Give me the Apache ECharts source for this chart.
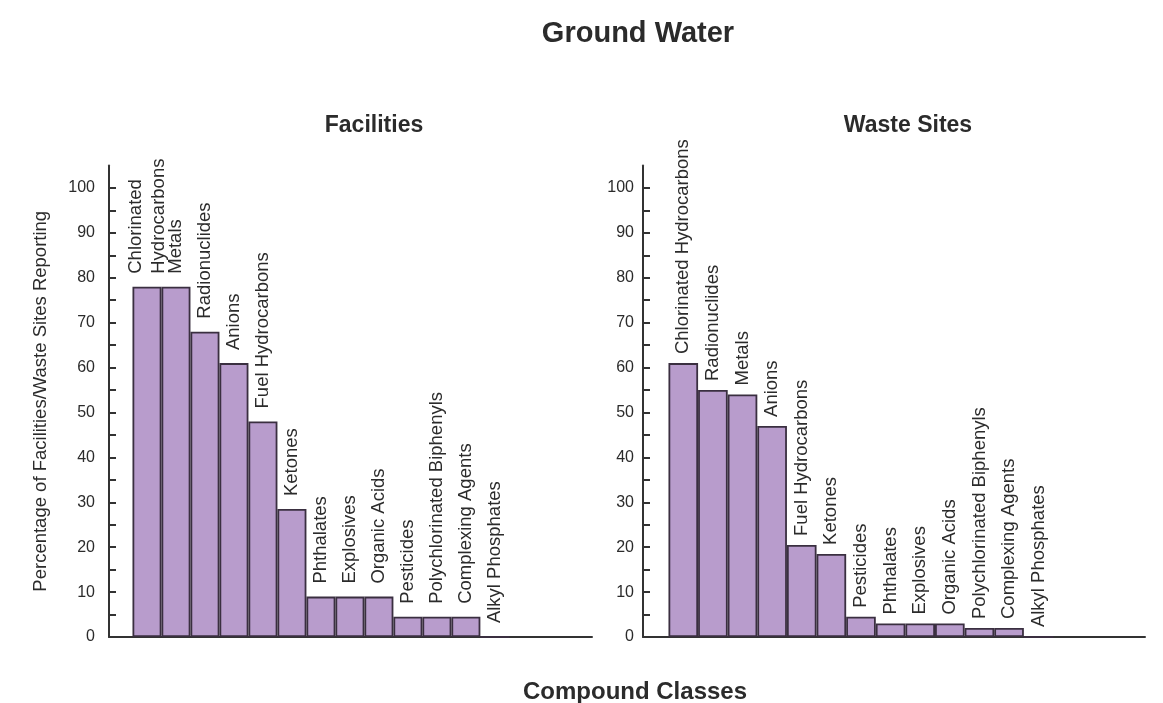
<!DOCTYPE html>
<html>
<head>
<meta charset="utf-8">
<script src="https://cdn.jsdelivr.net/npm/echarts@6/dist/echarts.min.js"></script>
<style>
html,body{margin:0;padding:0;background:#fff;}
#main{width:1163px;height:703px;}
</style>
</head>
<body>
<div id="main"></div>
<script>
// ---- data ----
const facilityCategories = ['Chlorinated\nHydrocarbons', 'Metals', 'Radionuclides', 'Anions', 'Fuel Hydrocarbons', 'Ketones', 'Phthalates', 'Explosives', 'Organic Acids', 'Pesticides', 'Polychlorinated Biphenyls', 'Complexing Agents', 'Alkyl Phosphates'];
const facilityValues = [78, 78, 68, 61, 48, 28.5, 9, 9, 9, 4.5, 4.5, 4.5, 0];

const wasteCategories = ['Chlorinated Hydrocarbons', 'Radionuclides', 'Metals', 'Anions', 'Fuel Hydrocarbons', 'Ketones', 'Pesticides', 'Phthalates', 'Explosives', 'Organic Acids', 'Polychlorinated Biphenyls', 'Complexing Agents', 'Alkyl Phosphates'];
const wasteValues = [61, 55, 54, 47, 20.5, 18.5, 4.5, 3, 3, 3, 2, 2, 0];

const yTickValues = [0, 5, 10, 15, 20, 25, 30, 35, 40, 45, 50, 55, 60, 65, 70, 75, 80, 85, 90, 95, 100];
const yLabelValues = [0, 10, 20, 30, 40, 50, 60, 70, 80, 90, 100];

const mainTitle = 'Ground Water';
const leftTitle = 'Facilities';
const rightTitle = 'Waste Sites';
const xTitle = 'Compound Classes';
const yTitle = 'Percentage of Facilities/Waste Sites Reporting';

// ---- chart ----
const FONT = 'Liberation Sans, Arial, Helvetica, sans-serif';
const TEXT = '#2b2b2b';
const chart = echarts.init(document.getElementById('main'), null, {renderer: 'canvas'});

function yAxisCfg(gridIndex, labelMargin, withName) {
  const ax = {
    type: 'value', gridIndex: gridIndex, min: 0, max: 105,
    splitLine: {show: false},
    axisLine: {show: true, onZero: false, lineStyle: {color: '#333', width: 2}},
    axisTick: {show: true, inside: true, length: 7, customValues: yTickValues, lineStyle: {color: '#333', width: 2}},
    axisLabel: {show: true, customValues: yLabelValues, margin: labelMargin, color: TEXT,
      fontFamily: FONT, fontSize: 16, padding: [0, 0, 8, 0]}
  };
  if (withName) {
    Object.assign(ax, {name: yTitle, nameLocation: 'middle', nameGap: 59, nameRotate: 90,
      nameTextStyle: {fontFamily: FONT, fontSize: 18.5, color: TEXT}});
  }
  return ax;
}
function xAxisCfg(gridIndex, min, max) {
  return {
    type: 'value', gridIndex: gridIndex, min: min, max: max,
    splitLine: {show: false},
    axisLine: {show: true, onZero: false, lineStyle: {color: '#333', width: 2}},
    axisTick: {show: false}, axisLabel: {show: false}
  };
}
function barSeries(idx, cats, vals, dist) {
  return {
    type: 'bar', xAxisIndex: idx, yAxisIndex: idx,
    barWidth: '100%',
    data: vals.map((v, i) => ({value: [i, v], name: cats[i]})),
    itemStyle: {color: '#b89ccc', borderColor: '#3a2f40', borderWidth: 1.8},
    label: {show: true, position: 'top', rotate: 90, align: 'left', verticalAlign: 'middle',
      distance: dist, formatter: p => p.name, fontFamily: FONT, fontSize: 18.5, color: TEXT, lineHeight: 23},
    emphasis: {disabled: true},
    animation: false
  };
}

chart.setOption({
  backgroundColor: '#ffffff',
  animation: false,
  title: [
    {text: mainTitle, left: 633, top: 14, textAlign: 'center',
      textStyle: {fontFamily: FONT, fontSize: 29, fontWeight: 'bold', color: TEXT}},
    {text: leftTitle, left: 369, top: 109, textAlign: 'center',
      textStyle: {fontFamily: FONT, fontSize: 23, fontWeight: 'bold', color: TEXT}},
    {text: rightTitle, left: 903, top: 109, textAlign: 'center',
      textStyle: {fontFamily: FONT, fontSize: 23, fontWeight: 'bold', color: TEXT}},
    {text: xTitle, left: 630, top: 675, textAlign: 'center',
      textStyle: {fontFamily: FONT, fontSize: 24, fontWeight: 'bold', color: TEXT}}
  ],
  grid: [
    {left: 109, right: 1163 - 592, top: 165.5, bottom: 66, containLabel: false},
    {left: 643, right: 1163 - 1145, top: 165.5, bottom: 66, containLabel: false}
  ],
  xAxis: [xAxisCfg(0, -1.31, 15.35), xAxisCfg(1, -1.36, 15.59)],
  yAxis: [yAxisCfg(0, 14, true), yAxisCfg(1, 9, false)],
  series: [barSeries(0, facilityCategories, facilityValues, 13), barSeries(1, wasteCategories, wasteValues, 9)]
});
</script>
</body>
</html>
